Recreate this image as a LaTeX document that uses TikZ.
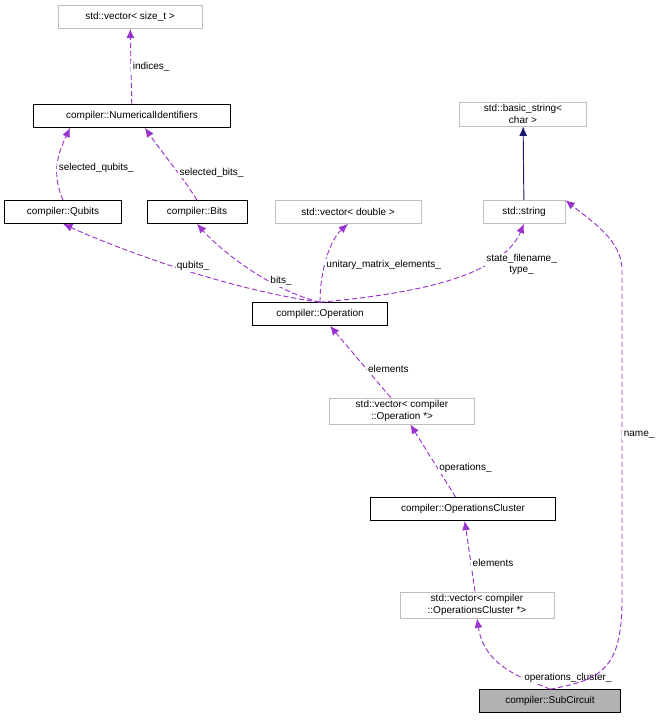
\documentclass[tikz,border=0pt]{standalone}
\usepackage{fontspec}
\setmainfont{Liberation Sans}
\usetikzlibrary{arrows.meta}
\begin{document}
\begin{tikzpicture}[x=0.75pt,y=-0.75pt,
 every node/.style={font=\fontsize{7.5pt}{8.5pt}\selectfont},
 cls/.style={draw=black,line width=0.7pt,minimum height=17pt,inner xsep=3pt,inner ysep=0pt},
 ext/.style={draw=black!25,line width=0.7pt,minimum height=17pt,inner xsep=3pt,inner ysep=2pt,align=center},
 uses/.style={draw={rgb,255:red,154;green,50;blue,205},dashed,dash pattern=on 4pt off 2pt,line width=0.7pt,-{Latex[length=7pt,width=6pt]}},
 inh/.style={draw={rgb,255:red,25;green,25;blue,112},line width=0.7pt,-{Latex[length=7pt,width=6pt]}},
 lbl/.style={fill=white,inner sep=1pt}]
\useasboundingbox (0,0) rectangle (671,721);
\node[ext,minimum width=144*0.75pt] (vs) at (130,17) {std::vector< size\_t >};
\node[cls,minimum width=197*0.75pt] (ni) at (132,116) {compiler::NumericalIdentifiers};
\node[ext,minimum width=127*0.75pt] (bs) at (523,114) {std::basic\_string<\\char >};
\node[cls,minimum width=117*0.75pt] (qb) at (63,212) {compiler::Qubits};
\node[cls,minimum width=100*0.75pt] (bt) at (197,212) {compiler::Bits};
\node[ext,minimum width=146*0.75pt] (vd) at (348,212) {std::vector< double >};
\node[ext,minimum width=82*0.75pt] (st) at (524,212) {std::string};
\node[cls,minimum width=135*0.75pt] (op) at (320,314) {compiler::Operation};
\node[ext,minimum width=145*0.75pt] (vo) at (402,411) {std::vector< compiler\\::Operation *>};
\node[cls,minimum width=185*0.75pt] (oc) at (463,509) {compiler::OperationsCluster};
\node[ext,minimum width=154*0.75pt] (voc) at (477,605) {std::vector< compiler\\::OperationsCluster *>};
\node[cls,fill=black!30,minimum width=141*0.75pt] (sc) at (550,701) {compiler::SubCircuit};

\draw[uses] (ni) -- node[lbl,right] {indices\_} (vs);
\draw[uses] (qb.north) .. controls (50,170) and (60,150) .. node[lbl,right,pos=0.4] {selected\_qubits\_} (ni.south west-|70,0);
\draw[uses] (bt.north) .. controls (185,180) and (160,150) .. node[lbl,right,pos=0.4] {selected\_bits\_} (ni.south-|145,0);
\draw[uses] (op.north) .. controls (230,290) and (120,250) .. node[lbl,pos=0.45,above] {qubits\_} (qb.south);
\draw[uses] (op.north) .. controls (270,290) and (220,250) .. node[lbl,pos=0.35,right] {bits\_} (bt.south);
\draw[uses] (op.north) .. controls (320,270) and (330,240) .. node[lbl,pos=0.4,right] {unitary\_matrix\_elements\_} (vd.south);
\draw[uses] (op.north) .. controls (400,295) and (500,280) .. node[lbl,pos=0.7,right,align=center] {state\_filename\_\\type\_} (st.south);
\draw[inh] (st) -- (bs);
\draw[uses] (vo) -- node[lbl,right,pos=0.4] {elements} (op);
\draw[uses] (oc) -- node[lbl,right,pos=0.4] {operations\_} (vo);
\draw[uses] (voc) -- node[lbl,right,pos=0.4] {elements} (oc);
\draw[uses] (sc.north) .. controls (530,680) and (485,670) .. node[lbl,right,pos=0.35] {operations\_cluster\_} (voc.south);
\draw[uses] (sc.north) .. controls (600,680) and (622,670) .. (622,600) -- node[lbl,right] {name\_} (622,270) .. controls (622,240) and (590,220) .. (st.north east);
\end{tikzpicture}
\end{document}
